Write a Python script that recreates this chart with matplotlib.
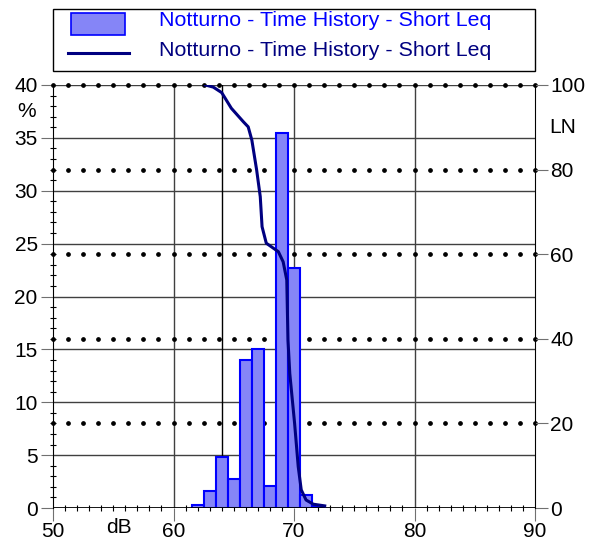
import numpy as np
import matplotlib.pyplot as plt
from matplotlib.patches import Rectangle
from matplotlib.lines import Line2D

plt.rcParams['font.family'] = ['Liberation Sans', 'DejaVu Sans']

# distribution, % of time per 1 dB class
classes = [62, 63, 64, 65, 66, 67, 68, 69, 70, 71, 72]
perc = [0.25, 1.6, 4.8, 2.7, 14.0, 15.0, 2.1, 35.5, 22.7, 1.2, 0.2]

# cumulative level curve LN (right axis)
ln_db = [62.65, 63.3, 64.0, 64.8, 65.8, 66.2, 66.5, 66.9, 67.2, 67.35, 67.7,
         68.7, 69.1, 69.4, 69.5, 69.65, 70.05, 70.35, 70.6, 71.0, 71.6, 72.55]
ln_val = [100, 99.5, 98.2, 94.5, 91.3, 90.1, 87.0, 79.9, 73.6, 66.5, 62.6,
          60.6, 58.2, 53.9, 39.7, 31.8, 20.0, 9.8, 4.3, 1.9, 0.9, 0.5]

series_name = 'Notturno - Time History - Short Leq'
fs = 15

fig = plt.figure(figsize=(5.89, 5.44), dpi=100)
ax = fig.add_axes([53/589, 1-508/544, (535-53)/589, (508-85)/544])

ax.set_xlim(50, 90)
ax.set_ylim(0, 40)

# grid lines
for y in range(5, 41, 5):
    ax.axhline(y, color='#404040', lw=1, zorder=1)
for x in [60, 70, 80]:
    ax.axvline(x, color='#404040', lw=1, zorder=1)
ax.axvline(64, color='black', lw=1, zorder=1)

# dotted lines at LN 20..100
dots_x = np.arange(50, 90.01, 1.25)
for y in [8, 16, 24, 32, 40]:
    ax.plot(dots_x, [y]*len(dots_x), ls='none', marker='o', ms=2.4,
            color='black', zorder=2, clip_on=False)

ax.bar(classes, perc, width=1.0, color='#8585f7', edgecolor='#0000ff',
       lw=1.5, zorder=3)
ax.axhline(0, color='black', lw=2, zorder=4)

for s in ['top', 'bottom']:
    ax.spines[s].set_visible(False)
ax.spines['left'].set_color('black')
ax.spines['right'].set_visible(False)

ax.set_xticks([50, 60, 70, 80, 90])
ax.set_xticks(np.arange(50, 91, 1), minor=True)
ax.set_yticks(range(0, 41, 5))
ax.set_yticks(range(0, 41, 1), minor=True)
ax.tick_params(axis='both', which='major', direction='out', length=9,
               color='#707070', labelsize=fs, pad=2)
ax.tick_params(axis='x', which='major', pad=1)
ax.tick_params(axis='both', which='minor', direction='inout', length=5,
               color='black', width=0.8)

ax2 = ax.twinx()
ax2.set_ylim(0, 100)
ax2.set_yticks(range(0, 101, 20))
ax2.tick_params(axis='y', direction='out', length=9, color='#707070',
                labelsize=fs, pad=2)
for s in ['top', 'bottom', 'left']:
    ax2.spines[s].set_visible(False)
ax2.spines['right'].set_color('black')
ax2.plot(ln_db, ln_val, color='#000080', lw=2.2, zorder=5)

# axis unit labels
ax.text(-0.035, 37.5, '%', transform=ax.get_yaxis_transform(),
        ha='right', va='center', fontsize=fs)
ax2.text(1.03, 90, 'LN', transform=ax2.get_yaxis_transform(),
         ha='left', va='center', fontsize=fs)
ax.text(55.5, -0.024, 'dB', transform=ax.get_xaxis_transform(),
        ha='center', va='top', fontsize=fs)

# legend box
fig.patches.append(Rectangle((53/589, 1-71/544), (535-53)/589, (71-9)/544,
                             transform=fig.transFigure, fill=False,
                             ec='black', lw=1))
fig.patches.append(Rectangle((71/589, 1-35/544), 54/589, 22/544,
                             transform=fig.transFigure, fc='#8585f7',
                             ec='#0000ff', lw=1.2))
fig.lines.append(Line2D([68/589, 129/589], [1-53/544, 1-53/544],
                        transform=fig.transFigure, color='#000080', lw=2.2))
fig.text(159/589, 1-21/544, series_name, color='#0000ff', fontsize=15.4,
         va='center', ha='left')
fig.text(159/589, 1-51/544, series_name, color='#000080', fontsize=15.4,
         va='center', ha='left')

fig.savefig('out.png', dpi=100)
